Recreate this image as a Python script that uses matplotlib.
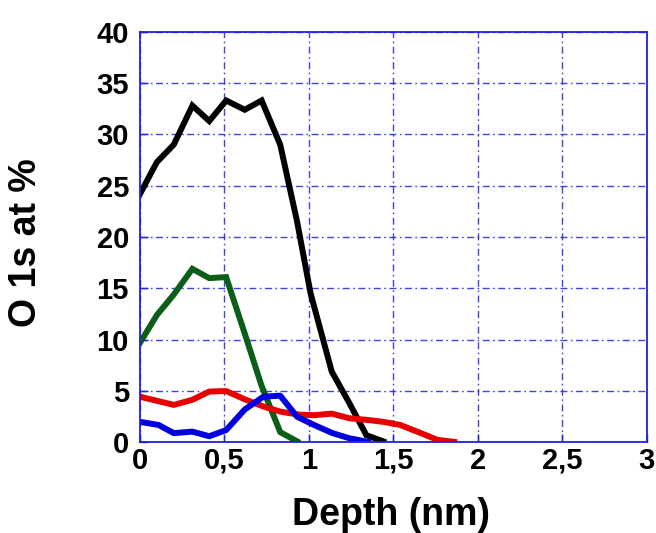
import matplotlib
matplotlib.use("Agg")
from matplotlib import pyplot as plt
from matplotlib.ticker import FuncFormatter

# depth (nm) and O 1s atomic %
black_x = [0, 0.10, 0.20, 0.31, 0.41, 0.51, 0.62, 0.72, 0.83, 0.93, 1.01, 1.135, 1.24, 1.34, 1.44]
black_y = [24.2, 27.3, 29.0, 32.8, 31.3, 33.3, 32.4, 33.3, 29.0, 21.5, 14.5, 6.9, 3.8, 0.7, 0.1]

green_x = [0, 0.10, 0.20, 0.31, 0.41, 0.51, 0.62, 0.72, 0.83, 0.93]
green_y = [9.7, 12.4, 14.4, 16.9, 16.0, 16.1, 10.6, 5.5, 1.0, 0.1]

red_x = [0, 0.10, 0.20, 0.31, 0.41, 0.51, 0.62, 0.73, 0.83, 0.94, 1.03, 1.135, 1.24, 1.34, 1.44, 1.54, 1.64, 1.76, 1.86]
red_y = [4.45, 4.05, 3.65, 4.15, 4.95, 5.0, 4.2, 3.5, 3.0, 2.7, 2.65, 2.8, 2.35, 2.2, 2.0, 1.7, 1.05, 0.25, 0.05]

blue_x = [0, 0.11, 0.20, 0.31, 0.41, 0.51, 0.62, 0.73, 0.83, 0.93, 1.03, 1.14, 1.24, 1.35]
blue_y = [2.0, 1.7, 0.9, 1.05, 0.6, 1.2, 3.2, 4.45, 4.55, 2.5, 1.7, 0.9, 0.4, 0.05]

x_ticks = [0, 0.5, 1, 1.5, 2, 2.5, 3]
y_ticks = [0, 5, 10, 15, 20, 25, 30, 35, 40]

plt.rcParams["font.family"] = ["Liberation Sans", "DejaVu Sans"]
plt.rcParams["font.weight"] = "bold"

fig = plt.figure(figsize=(6.56, 5.33), dpi=100)
ax = fig.add_axes([0.2134, 0.170, 0.7726, 0.7705])

lw = 4.3
ax.plot(black_x, black_y, color="black", lw=lw, solid_joinstyle="miter")
ax.plot(green_x, green_y, color="#0b5e18", lw=lw, solid_joinstyle="miter")
ax.plot(red_x, red_y, color="#e80000", lw=lw)
ax.plot(blue_x, blue_y, color="#0000e0", lw=lw)

ax.set_xlim(0, 3)
ax.set_ylim(0, 40)
ax.set_xticks(x_ticks)
ax.set_yticks(y_ticks)

# comma as decimal separator
ax.xaxis.set_major_formatter(FuncFormatter(lambda v, p: ("%g" % v).replace(".", ",")))

ax.grid(True, color="#2020e0", lw=1.0, linestyle=(0, (5, 2.5, 1.2, 2.5)), alpha=0.85)
ax.set_axisbelow(True)
for s in ax.spines.values():
    s.set_color("#2020e0")
    s.set_linewidth(1.3)
ax.tick_params(direction="in", length=6, width=1, color="#2020e0", labelsize=21)
ax.tick_params(axis="x", pad=3)
ax.tick_params(axis="y", pad=8)
for lab in ax.get_xticklabels() + ax.get_yticklabels():
    lab.set_fontweight("bold")

ax.set_xlabel("Depth (nm)", fontsize=27, fontweight="bold")
ax.set_ylabel("O 1s at %", fontsize=27, fontweight="bold")
ax.xaxis.set_label_coords(0.496, -0.133)
ax.yaxis.set_label_coords(-0.189, 0.487)

fig.savefig("out.png", dpi=100)
